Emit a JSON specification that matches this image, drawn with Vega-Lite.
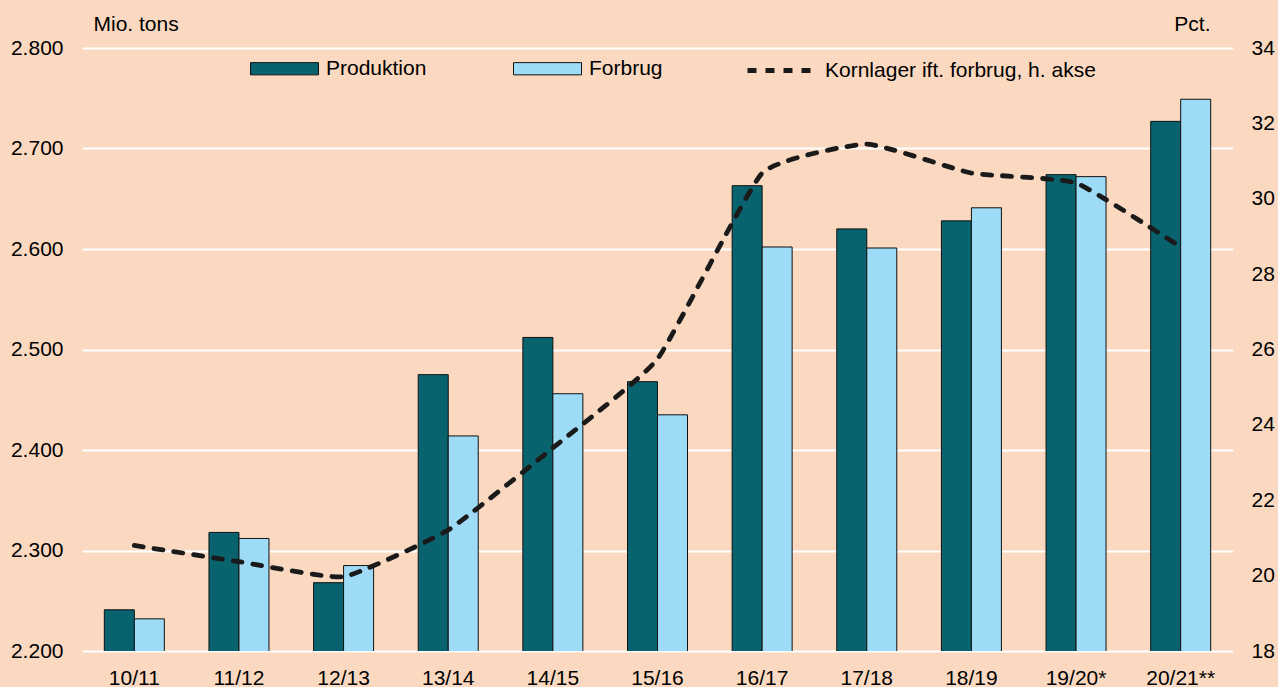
{
  "$schema": "https://vega.github.io/schema/vega-lite/v6.json",
  "width": 1151,
  "height": 603,
  "autosize": {"type": "none"},
  "padding": {"left": 82, "top": 48, "right": 45, "bottom": 36},
  "background": "#FBD9C1",
  "config": {
    "view": {"stroke": null},
    "font": "Liberation Sans",
    "axis": {"labelFont": "Liberation Sans", "titleFont": "Liberation Sans", "labelColor": "#000", "titleColor": "#000", "labelFontSize": 21, "titleFontSize": 21, "titleFontWeight": "normal"},
    "legend": {"labelFont": "Liberation Sans", "labelColor": "#000", "labelFontSize": 21, "labelLimit": 0}
  },
  "datasets": {
    "bars": [
      {"periode": "10/11", "serie": "Produktion", "mio_tons": 2241},
      {"periode": "10/11", "serie": "Forbrug", "mio_tons": 2232},
      {"periode": "11/12", "serie": "Produktion", "mio_tons": 2318},
      {"periode": "11/12", "serie": "Forbrug", "mio_tons": 2312},
      {"periode": "12/13", "serie": "Produktion", "mio_tons": 2268},
      {"periode": "12/13", "serie": "Forbrug", "mio_tons": 2285},
      {"periode": "13/14", "serie": "Produktion", "mio_tons": 2475},
      {"periode": "13/14", "serie": "Forbrug", "mio_tons": 2414},
      {"periode": "14/15", "serie": "Produktion", "mio_tons": 2512},
      {"periode": "14/15", "serie": "Forbrug", "mio_tons": 2456},
      {"periode": "15/16", "serie": "Produktion", "mio_tons": 2468},
      {"periode": "15/16", "serie": "Forbrug", "mio_tons": 2435},
      {"periode": "16/17", "serie": "Produktion", "mio_tons": 2663},
      {"periode": "16/17", "serie": "Forbrug", "mio_tons": 2602},
      {"periode": "17/18", "serie": "Produktion", "mio_tons": 2620},
      {"periode": "17/18", "serie": "Forbrug", "mio_tons": 2601},
      {"periode": "18/19", "serie": "Produktion", "mio_tons": 2628},
      {"periode": "18/19", "serie": "Forbrug", "mio_tons": 2641},
      {"periode": "19/20*", "serie": "Produktion", "mio_tons": 2674},
      {"periode": "19/20*", "serie": "Forbrug", "mio_tons": 2672},
      {"periode": "20/21**", "serie": "Produktion", "mio_tons": 2727},
      {"periode": "20/21**", "serie": "Forbrug", "mio_tons": 2749}
    ],
    "line": [
      {"periode": "10/11", "serie": "Kornlager ift. forbrug, h. akse", "pct": 20.8},
      {"periode": "11/12", "serie": "Kornlager ift. forbrug, h. akse", "pct": 20.37},
      {"periode": "12/13", "serie": "Kornlager ift. forbrug, h. akse", "pct": 19.97},
      {"periode": "13/14", "serie": "Kornlager ift. forbrug, h. akse", "pct": 21.21},
      {"periode": "14/15", "serie": "Kornlager ift. forbrug, h. akse", "pct": 23.39},
      {"periode": "15/16", "serie": "Kornlager ift. forbrug, h. akse", "pct": 25.75},
      {"periode": "16/17", "serie": "Kornlager ift. forbrug, h. akse", "pct": 30.68},
      {"periode": "17/18", "serie": "Kornlager ift. forbrug, h. akse", "pct": 31.45},
      {"periode": "18/19", "serie": "Kornlager ift. forbrug, h. akse", "pct": 30.68},
      {"periode": "19/20*", "serie": "Kornlager ift. forbrug, h. akse", "pct": 30.42},
      {"periode": "20/21**", "serie": "Kornlager ift. forbrug, h. akse", "pct": 28.72}
    ]
  },
  "layer": [
    {
      "data": {"name": "bars"},
      "mark": {"type": "bar", "stroke": "#111111", "strokeWidth": 1, "clip": true},
      "encoding": {
        "x": {
          "field": "periode", "type": "nominal", "sort": null,
          "scale": {"paddingInner": 0.4266, "paddingOuter": 0.2133},
          "axis": {"title": null, "labelAngle": 0, "ticks": false, "tickSize": 0, "domain": false, "labelPadding": 33, "labelBaseline": "alphabetic"}
        },
        "xOffset": {"field": "serie", "type": "nominal", "sort": ["Produktion", "Forbrug"], "scale": {"paddingInner": 0, "paddingOuter": 0}},
        "y": {
          "field": "mio_tons", "type": "quantitative",
          "scale": {"domain": [2200, 2800], "zero": false, "nice": false},
          "axis": {
            "values": [2200, 2300, 2400, 2500, 2600, 2700, 2800],
            "labelExpr": "replace(format(datum.value, ',.0f'), ',', '.')",
            "grid": true, "gridColor": "#FFFFFF", "gridWidth": 2, "gridOpacity": 1,
            "domain": false, "ticks": false, "tickSize": 0, "labelPadding": 19,
            "title": "Mio. tons", "titleAngle": 0, "titleX": 11, "titleY": -24, "titleAlign": "left", "titleBaseline": "middle"
          }
        },
        "color": {
          "field": "serie", "type": "nominal",
          "scale": {"domain": ["Produktion", "Forbrug"], "range": ["#08636F", "#9DDBF6"]},
          "legend": {
            "orient": "none", "legendX": 168, "legendY": -14, "direction": "horizontal",
            "title": null, "padding": 0,
            "symbolType": "M-1,-0.18H1V0.18H-1Z", "symbolSize": 4624,
            "symbolStrokeColor": "#111111", "symbolStrokeWidth": 1, "symbolOpacity": 1,
            "labelOffset": 7, "columnPadding": 84, "labelFontSize": 21
          }
        }
      }
    },
    {
      "data": {"name": "line"},
      "mark": {"type": "line", "interpolate": "cardinal", "tension": 0.6, "strokeDash": [9, 11], "strokeWidth": 4.8, "strokeCap": "round"},
      "encoding": {
        "x": {"field": "periode", "type": "nominal", "sort": null},
        "y": {
          "field": "pct", "type": "quantitative",
          "scale": {"domain": [18, 34], "zero": false, "nice": false},
          "axis": {
            "orient": "right", "values": [18, 20, 22, 24, 26, 28, 30, 32, 34],
            "grid": false, "domain": false, "ticks": false, "tickSize": 0, "labelPadding": 18,
            "title": "Pct.", "titleAngle": 0, "titleX": -23, "titleY": -24, "titleAlign": "right", "titleBaseline": "middle"
          }
        },
        "color": {
          "field": "serie", "type": "nominal",
          "scale": {"domain": ["Kornlager ift. forbrug, h. akse"], "range": ["#1A1A1A"]},
          "legend": {
            "orient": "none", "legendX": 663, "legendY": -14, "direction": "horizontal",
            "title": null, "padding": 0,
            "symbolType": "stroke", "symbolSize": 4624, "symbolStrokeWidth": 4.8, "symbolDash": [9, 9],
            "labelOffset": 7, "labelFontSize": 21, "labelLimit": 0
          }
        }
      }
    }
  ],
  "resolve": {"scale": {"y": "independent", "color": "independent"}}
}
